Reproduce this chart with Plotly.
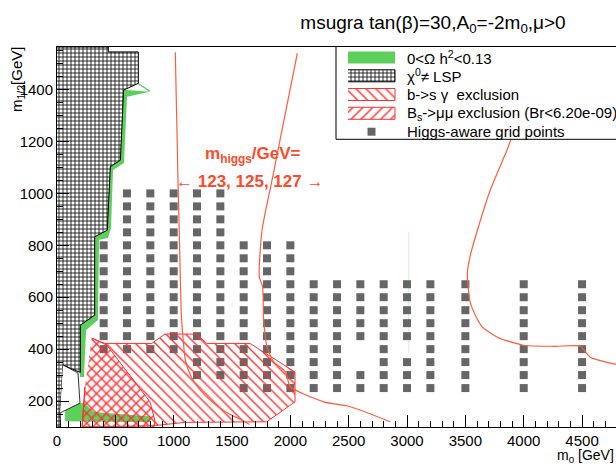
import plotly.graph_objects as go

# ---------------------------------------------------------------- data ----
# Higgs-aware scan grid: for each m0 column the lowest / highest m1/2 (GeV),
# points every 50 GeV in m1/2, minus a few points that failed.
grid_m0 = [400, 600, 800, 1000, 1200, 1400, 1600, 1800, 2000,
           2200, 2400, 2600, 2800, 3000, 3200, 3500, 4000, 4500]
grid_m12_lo = [400, 400, 400, 400, 300, 300, 250, 250, 250,
               250, 250, 250, 250, 250, 250, 250, 250, 250]
grid_m12_hi = [800, 1000, 1000, 1000, 1000, 1000, 800, 800, 800,
               650, 650, 650, 650, 650, 650, 650, 650, 650]
grid_step = 50
grid_missing = [(2600, 350), (2600, 400), (3000, 400)]

# chi0 is not the LSP (stau LSP region)
lsp_m0 = [0, 440, 440, 697, 697, 571, 543, 457, 431, 323, 323, 200, 200,
          51, 26, 30, 0]
lsp_m12 = [1564, 1564, 1545, 1545, 1424, 1398, 1128, 1103, 858, 833, 531,
           492, 310, 339, 154, 100, 100]
hole_m0 = [51, 180, 197, 26]
hole_m12 = [339, 308, 192, 154]

# 0 < Omega h^2 < 0.13 (co-annihilation strip and low-mass region)
relic_strip_m0 = [568, 797, 600, 574, 480, 463, 437, 360, 351, 249, 231, 197,
                  197, 326, 326, 429, 454, 540]
relic_strip_m12 = [1399, 1392, 1372, 1117, 1090, 867, 828, 821, 512, 474, 293,
                   293, 493, 532, 832, 859, 1103, 1129]
relic_tip_m0 = [690, 797]
relic_tip_m12 = [1424, 1394]
relic_low_m0 = [70, 229, 314, 540, 800, 800, 70]
relic_low_m12 = [185, 193, 158, 150, 140, 118, 122]
relic_funnel_m0 = [3015, 3015]
relic_funnel_m12 = [385, 850]

# b -> s gamma exclusion
bsg_m0 = [297, 411, 812, 926, 1197, 1283, 1654, 2040, 2040, 1797, 1100, 830,
          215, 240]
bsg_m12 = [442, 422, 422, 458, 458, 422, 422, 312, 197, 120, 118, 105,
           100, 255]

# Bs -> mu mu exclusion
bsmm_m0 = [300, 426, 797, 840, 830, 215, 240]
bsmm_m12 = [442, 416, 197, 123, 100, 100, 255]

# Higgs mass contours (GeV)
mh123_m0 = [1014, 1037, 1051, 1065, 1077, 1100, 1151, 1228, 1329, 1443, 1586,
            1650]
mh123_m12 = [1544, 1051, 794, 538, 460, 358, 293, 242, 197, 159, 126, 110]
mh125_m0 = [2060, 1843, 1757, 1734, 1762, 1771, 1800, 1857, 1957, 2000, 2285,
            2514, 2857]
mh125_m12 = [1540, 1051, 858, 679, 640, 513, 409, 351, 313, 255, 197, 178,
             120]
mh127_m0 = [4058, 3900, 3857, 3714, 3603, 3543, 3517, 3526, 3543, 3594, 3646,
            3774, 3997, 4271, 4485, 4571, 4742, 4820]
mh127_m12 = [1359, 1218, 1167, 1013, 858, 762, 693, 628, 578, 523, 485, 446,
             415, 411, 411, 369, 346, 338]

legend_labels = [
    "0&lt;Ω h<sup>2</sup>&lt;0.13",
    "χ<sup>0</sup>≠ LSP",
    "b-&gt;s γ  exclusion",
    "B<sub>s</sub>-&gt;μμ exclusion (Br&lt;6.20e-09)",
    "Higgs-aware grid points",
]

# --------------------------------------------------------------- style ----
FONT = "Liberation Sans, Arial, Helvetica, sans-serif"
GREEN = "#5ccf5c"
RED = "#ff3030"
HIGGS = "#ff5c3c"
TEXT_RED = "#ff4a2a"
GREY = "#666666"
CLEAR = "rgba(0,0,0,0)"


def hatch(shape, color, size, solidity):
    return dict(shape=shape, fgcolor=color, bgcolor=CLEAR, size=size,
                solidity=solidity, fillmode="replace")


LSP_HATCH = hatch("+", "black", 4, 0.36)
BSG_HATCH = hatch("\\", RED, 7, 0.2)
BSMM_HATCH = hatch("/", RED, 7, 0.2)

fig = go.Figure()


def area(x, y, fillcolor=CLEAR, pattern=None, line_color=None, line_width=0,
         xaxis="x", yaxis="y"):
    kw = dict(x=x, y=y, mode="lines", fill="toself", fillcolor=fillcolor,
              line=dict(color=line_color or CLEAR, width=line_width),
              hoverinfo="skip", showlegend=False, xaxis=xaxis, yaxis=yaxis)
    if pattern is not None:
        kw["fillpattern"] = pattern
    fig.add_trace(go.Scatter(**kw))


# relic density regions
area(relic_strip_m0, relic_strip_m12, fillcolor=GREEN)
area(relic_low_m0, relic_low_m12, fillcolor=GREEN)
fig.add_trace(go.Scatter(x=relic_tip_m0, y=relic_tip_m12, mode="lines",
                         line=dict(color=GREEN, width=1.2), hoverinfo="skip",
                         showlegend=False))
fig.add_trace(go.Scatter(x=relic_funnel_m0, y=relic_funnel_m12, mode="lines",
                         line=dict(color="rgba(120,210,120,0.35)", width=1),
                         hoverinfo="skip", showlegend=False))

# stau-LSP region
area(lsp_m0, lsp_m12, pattern=LSP_HATCH, line_color="black", line_width=1)
area(hole_m0, hole_m12, fillcolor="white", line_color="black", line_width=0.8)

# scan grid
gx, gy = [], []
for m0, lo, hi in zip(grid_m0, grid_m12_lo, grid_m12_hi):
    for m12 in range(lo, hi + grid_step, grid_step):
        if (m0, m12) not in grid_missing:
            gx.append(m0)
            gy.append(m12)
fig.add_trace(go.Scatter(x=gx, y=gy, mode="markers",
                         marker=dict(symbol="square", size=8, color=GREY,
                                     line=dict(width=0)),
                         hoverinfo="skip", showlegend=False))

# flavour exclusions
area(bsg_m0, bsg_m12, pattern=BSG_HATCH, line_color=RED, line_width=1)
area(bsmm_m0, bsmm_m12, pattern=BSMM_HATCH, line_color=RED, line_width=1)

# Higgs mass contours
for cx, cy in [(mh123_m0, mh123_m12), (mh125_m0, mh125_m12),
               (mh127_m0, mh127_m12)]:
    fig.add_trace(go.Scatter(x=cx, y=cy, mode="lines",
                             line=dict(color=HIGGS, width=1.2, shape="spline",
                                       smoothing=0.6),
                             hoverinfo="skip", showlegend=False))

# ------------------------------------------------------------- legend ----
# legend box drawn on an overlay axis measured in pixels of the plot area
LX, LY = "x2", "y2"
area([279, 565, 565, 279, 279], [287.7, 287.7, 381, 381, 287.7],
     fillcolor="white", line_color="black", line_width=1, xaxis=LX, yaxis=LY)
sw_x0, sw_x1 = 291, 338
rows_y = [369.5, 351.2, 332.5, 313.7, 295.3]
half_h = 6
swatches = [
    dict(fillcolor=GREEN),
    dict(pattern=LSP_HATCH, line_color="black", line_width=1),
    dict(pattern=BSG_HATCH, line_color=RED, line_width=1),
    dict(pattern=BSMM_HATCH, line_color=RED, line_width=1),
]
for yc, st in zip(rows_y[:4], swatches):
    area([sw_x0, sw_x1, sw_x1, sw_x0],
         [yc - half_h, yc - half_h, yc + half_h, yc + half_h],
         xaxis=LX, yaxis=LY, **st)
fig.add_trace(go.Scatter(x=[(sw_x0 + sw_x1) / 2], y=[rows_y[4]],
                         mode="markers", xaxis=LX, yaxis=LY,
                         marker=dict(symbol="square", size=8, color=GREY),
                         hoverinfo="skip", showlegend=False))

annotations = []
for yc, lab in zip(rows_y, legend_labels):
    annotations.append(dict(x=348, y=yc, xref=LX, yref=LY, text=lab,
                            showarrow=False, xanchor="left", yanchor="middle",
                            font=dict(family=FONT, size=15, color="black")))

# Higgs contour labels
annotations.append(dict(x=1680, y=1148, xref="x", yref="y",
                        text="<b>m<sub>higgs</sub>/GeV=</b>", showarrow=False,
                        xanchor="center", yanchor="middle",
                        font=dict(family=FONT, size=17, color=TEXT_RED)))
annotations.append(dict(x=1654, y=1044, xref="x", yref="y",
                        text="←<b> 123, 125, 127 </b>→", showarrow=False,
                        xanchor="center", yanchor="middle",
                        font=dict(family=FONT, size=17, color=TEXT_RED)))

# axis titles
annotations.append(dict(x=-40 / 559, y=(427 - 80) / 380, xref="paper",
                        yref="paper", text="m<sub>1/2</sub>[GeV]",
                        textangle=-90, showarrow=False, xanchor="center",
                        yanchor="middle",
                        font=dict(family=FONT, size=15, color="black")))
annotations.append(dict(x=1.0, y=(427 - 456) / 380, xref="paper",
                        yref="paper", text="m<sub>0</sub> [GeV]",
                        showarrow=False, xanchor="right", yanchor="middle",
                        font=dict(family=FONT, size=14, color="black")))

axis_common = dict(showline=True, linecolor="black", linewidth=1,
                   showgrid=False, zeroline=False, ticks="inside", ticklen=12,
                   tickwidth=1, tickcolor="black",
                   tickfont=dict(family=FONT, size=15, color="black"))

fig.update_layout(
    width=616, height=464,
    margin=dict(l=57, r=0, t=47, b=37),
    paper_bgcolor="white", plot_bgcolor="white",
    showlegend=False,
    font=dict(family=FONT, size=15, color="black"),
    title=dict(text="msugra tan(β)=30,A<sub>0</sub>=-2m<sub>0</sub>,μ&gt;0",
               x=433 / 616, xanchor="center", xref="container",
               y=1 - 22 / 464, yanchor="middle", yref="container",
               font=dict(family=FONT, size=19, color="black")),
    xaxis=dict(range=[0, 4791], tick0=0, dtick=500, mirror=True,
               minor=dict(ticks="inside", ticklen=6, tick0=0, dtick=100,
                          tickcolor="black", showgrid=False),
               **axis_common),
    yaxis=dict(range=[100, 1564], tick0=0, dtick=200, mirror=False,
               minor=dict(ticks="inside", ticklen=6, tick0=0, dtick=50,
                          tickcolor="black", showgrid=False),
               **axis_common),
    xaxis2=dict(overlaying="x", range=[0, 559], visible=False,
                fixedrange=True),
    yaxis2=dict(overlaying="y", range=[0, 380], visible=False,
                fixedrange=True),
    annotations=annotations,
)

fig.write_html("out.html")
